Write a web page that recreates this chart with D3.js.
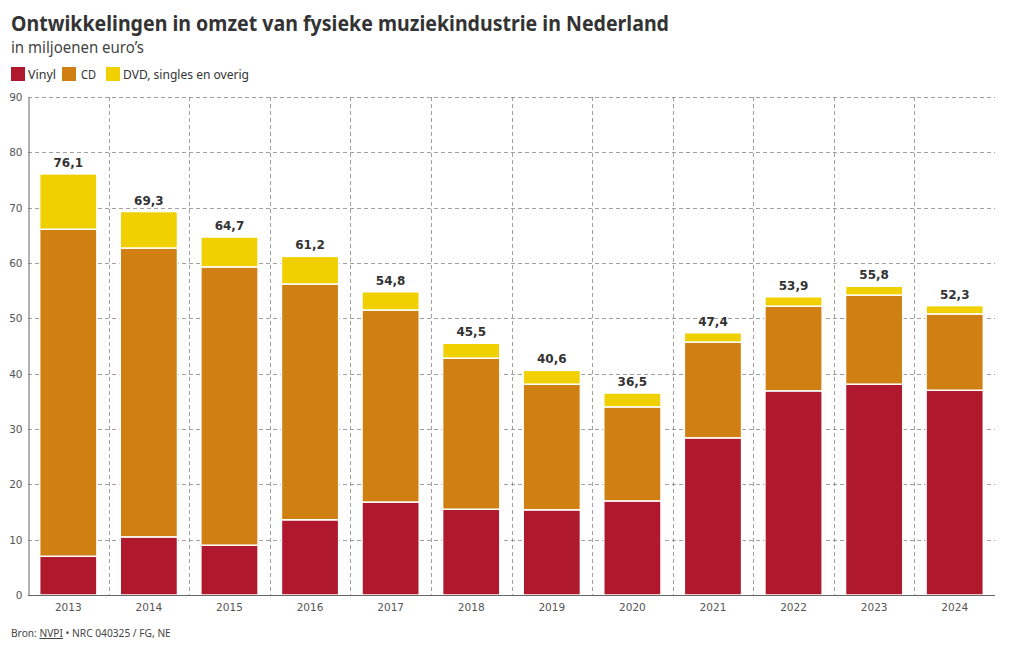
<!DOCTYPE html>
<html><head><meta charset="utf-8">
<script src="https://cdn.jsdelivr.net/npm/d3@7"></script>
<style>body{margin:0;background:#fff;}svg{display:block;}</style>
</head><body>
<script>
const years = ["2013","2014","2015","2016","2017","2018","2019","2020","2021","2022","2023","2024"];
const vinyl = [7.0,10.5,9.0,13.6,16.8,15.5,15.4,17.0,28.4,36.9,38.1,37.0];
const cd = [59.1,52.2,50.3,42.6,34.7,27.3,22.7,17.0,17.3,15.3,16.1,13.8];
const overig = [10.0,6.6,5.4,5.0,3.3,2.7,2.5,2.5,1.7,1.7,1.6,1.5];
const totals = ["76,1","69,3","64,7","61,2","54,8","45,5","40,6","36,5","47,4","53,9","55,8","52,3"];
const seriesNames = ["Vinyl","CD","DVD, singles en overig"];
const colors = ["#b0182e","#d08012","#f0d000"];
const yTicks = [0,10,20,30,40,50,60,70,80,90];

const W=1020,H=650;
const svg=d3.select("body").append("svg").attr("width",W).attr("height",H);
const m={l:28,r:995,t:97,b:595};
const x=d3.scaleBand().domain(years).range([m.l,m.r]).paddingInner(0.29).paddingOuter(0.145);
const xg=d3.scaleBand().domain(years).range([m.l,m.r]);
const y=d3.scaleLinear().domain([0,90]).range([m.b,m.t]);
const font="'Source Sans Pro','Noto Sans',sans-serif";

svg.append("text").attr("x",11).attr("y",31).attr("font-family",font).attr("font-weight","bold")
 .attr("font-size",22).attr("fill","#333").attr("textLength",658).attr("lengthAdjust","spacingAndGlyphs")
 .text("Ontwikkelingen in omzet van fysieke muziekindustrie in Nederland");
svg.append("text").attr("x",11).attr("y",53).attr("font-family",font).attr("font-size",16).attr("fill","#444")
 .attr("textLength",133).attr("lengthAdjust","spacingAndGlyphs").text("in miljoenen euro’s");

// legend
const legPos=[[11,28],[62,81],[106,123]];
const legLen=[28,15,126];
seriesNames.forEach((n,i)=>{
  svg.append("rect").attr("x",legPos[i][0]).attr("y",67).attr("width",14).attr("height",14).attr("fill",colors[i]);
  svg.append("text").attr("x",legPos[i][1]).attr("y",79).attr("font-family",font).attr("font-size",13).attr("fill","#333")
   .attr("textLength",legLen[i]).attr("lengthAdjust","spacingAndGlyphs").text(n);
});

// grid
const grid=svg.append("g").attr("stroke","#888").attr("stroke-dasharray","4,3").attr("stroke-width",0.8);
yTicks.filter(d=>d>0).forEach(t=>{
  grid.append("line").attr("x1",m.l).attr("x2",m.r).attr("y1",Math.round(y(t))+0.5).attr("y2",Math.round(y(t))+0.5);
});
years.slice(1).forEach(yr=>{
  const xx=Math.round(xg(yr))+0.5;
  grid.append("line").attr("x1",xx).attr("x2",xx).attr("y1",m.t).attr("y2",m.b);
});

// stacked bars
const data=years.map((yr,i)=>({year:yr,Vinyl:vinyl[i],CD:cd[i],"DVD, singles en overig":overig[i]}));
const stack=d3.stack().keys(seriesNames)(data);
svg.append("g").selectAll("g").data(stack).join("g").attr("fill",(d,i)=>colors[i])
 .selectAll("rect").data(d=>d).join("rect")
 .attr("x",d=>x(d.data.year)).attr("width",x.bandwidth())
 .attr("y",d=>y(d[1])).attr("height",d=>y(d[0])-y(d[1]))
 .attr("stroke","#fff").attr("stroke-width",1.5);

// totals
svg.append("g").selectAll("text").data(years).join("text")
 .attr("x",d=>x(d)+x.bandwidth()/2).attr("y",(d,i)=>y(vinyl[i]+cd[i]+overig[i])-7)
 .attr("text-anchor","middle").attr("font-family","DejaVu Sans").attr("font-weight","bold").attr("font-size",12).attr("fill","#333")
 .text((d,i)=>totals[i]);

// axes
const ya=svg.append("g").attr("transform",`translate(${m.l+0.5},0)`)
 .call(d3.axisLeft(y).tickValues(yTicks).tickSize(0).tickPadding(6));
ya.select(".domain").attr("stroke","#666");
ya.selectAll("text").attr("font-family","DejaVu Sans").attr("font-size",10.5).attr("fill","#555");
const xa=svg.append("g").attr("transform",`translate(0,${m.b+0.5})`)
 .call(d3.axisBottom(x).tickSize(0).tickPadding(8));
xa.select(".domain").attr("stroke","#666").attr("d",`M${m.l},0H${m.r}`);
xa.selectAll("text").attr("font-family","DejaVu Sans").attr("font-size",10.5).attr("fill","#555");

// footer
const ft=svg.append("text").attr("x",11).attr("y",637).attr("font-family",font).attr("font-size",10.2).attr("fill","#444");
ft.append("tspan").text("Bron: ");
ft.append("tspan").attr("text-decoration","underline").text("NVPI");
ft.append("tspan").text(" • NRC 040325 / FG, NE");
</script>
</body></html>
